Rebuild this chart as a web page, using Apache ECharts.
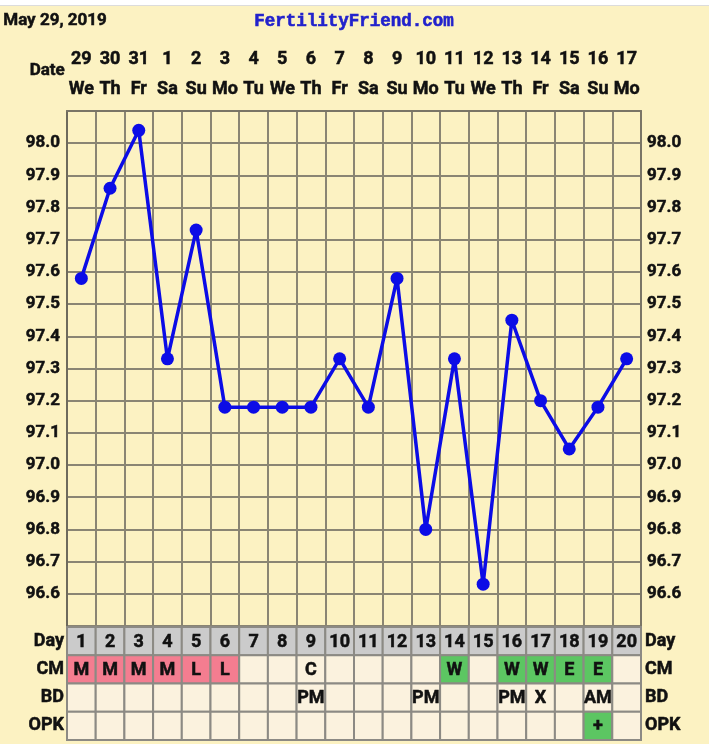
<!DOCTYPE html>
<html><head><meta charset="utf-8">
<script src="https://cdn.jsdelivr.net/npm/echarts@6/dist/echarts.min.js"></script>
<style>
html,body{margin:0;padding:0;background:#fff;overflow:hidden;}
#bg{position:absolute;left:0;top:5px;width:709px;height:739px;background:#FCF2C2;border-top:1px solid #dcdcdc;}
#chart{position:absolute;left:0;top:0;width:713px;height:744px;}
</style></head><body><div id="bg"></div><div id="chart"></div>
<script>
const chartDate = 'May 29, 2019';
const siteName = 'FertilityFriend.com';
const dates = ['29','30','31','1','2','3','4','5','6','7','8','9','10','11','12','13','14','15','16','17'];
const weekdays = ['We','Th','Fr','Sa','Su','Mo','Tu','We','Th','Fr','Sa','Su','Mo','Tu','We','Th','Fr','Sa','Su','Mo'];
const cycleDays = ['1','2','3','4','5','6','7','8','9','10','11','12','13','14','15','16','17','18','19','20'];
const temps = [97.58,97.86,98.04,97.33,97.73,97.18,97.18,97.18,97.18,97.33,97.18,97.58,96.80,97.33,96.63,97.45,97.20,97.05,97.18,97.33];
const rowNames = ['Day','CM','BD','OPK'];
const cm  = ['M','M','M','M','L','L','','','C','','','','','W','','W','W','E','E',''];
const bd  = ['','','','','','','','','PM','','','','PM','','','PM','X','','AM',''];
const opk = ['','','','','','','','','','','','','','','','','','','+',''];
const yMin = 96.5, yMax = 98.1, yStep = 0.1;

const PINK = '#F47D90', GREEN = '#5CC662', CREAM = '#FBF2DE', GRAY = '#CBCBCB';
function cmColor(t){ if(t==='M'||t==='L') return PINK; if(t==='W'||t==='E') return GREEN; return CREAM; }
function opkColor(t){ return t==='+' ? GREEN : CREAM; }

const cells = [];
cycleDays.forEach((d,i)=>{
  cells.push({col:i,row:0,text:d,fill:GRAY});
  cells.push({col:i,row:1,text:cm[i],fill:cmColor(cm[i])});
  cells.push({col:i,row:2,text:bd[i],fill:CREAM});
  cells.push({col:i,row:3,text:opk[i],fill:opkColor(opk[i])});
});

const FONT = 'Roboto';
const lblStyle = {color:'#111', fontFamily:FONT, fontWeight:'bold', fontSize:17, textBorderColor:'#111', textBorderWidth:0.5};
const gridColor = '#8A8573';

const chart = echarts.init(document.getElementById('chart'));
chart.setOption({
  animation:false,
  backgroundColor:'transparent',
  grid:[
    {left:67, top:111, width:574, height:515},
    {left:67, top:627, width:574, height:113}
  ],
  graphic:[
    {type:'text', left:3, top:12, style:{text:chartDate, font:'bold 17px Roboto', fill:'#111', stroke:'#111', lineWidth:0.5}},
    {type:'text', left:254, top:12, style:{text:siteName, font:'bold 17.5px "Liberation Mono"', fill:'#2222CC', stroke:'#2222CC', lineWidth:0.6}},
    {type:'text', right:648, top:62, style:{text:'Date', font:'bold 17px Roboto', fill:'#111', stroke:'#111', lineWidth:0.5}}
  ],
  xAxis:[
    {gridIndex:0, type:'category', data:dates, position:'top', boundaryGap:true,
     axisLine:{show:true, lineStyle:{color:'#7A7566', width:2}}, axisTick:{show:false},
     axisLabel:Object.assign({interval:0, margin:13, formatter:(v,i)=>weekdays[i]}, lblStyle, {fontSize:18}),
     splitLine:{show:true, interval:0, lineStyle:{color:gridColor, width:2}}},
    {gridIndex:0, type:'category', data:dates, position:'top', boundaryGap:true,
     axisLine:{show:false}, axisTick:{show:false},
     axisLabel:Object.assign({interval:0, margin:43}, lblStyle, {fontSize:18}),
     splitLine:{show:false}},
    {gridIndex:1, type:'category', data:cycleDays, position:'bottom', boundaryGap:true,
     axisLine:{show:false}, axisTick:{show:false}, axisLabel:{show:false}, splitLine:{show:false}}
  ],
  yAxis:[
    {gridIndex:0, type:'value', min:yMin, max:yMax, interval:yStep, position:'left',
     axisLine:{show:true, lineStyle:{color:'#6E6A5C', width:2}}, axisTick:{show:false},
     axisLabel:Object.assign({margin:7, formatter:v=>(v<yMin+0.05||v>yMax-0.05)?'':v.toFixed(1)}, lblStyle),
     splitLine:{show:true, lineStyle:{color:gridColor, width:2}}},
    {gridIndex:0, type:'value', min:yMin, max:yMax, interval:yStep, position:'right',
     axisLine:{show:true, lineStyle:{color:'#7A7566', width:2}}, axisTick:{show:false},
     axisLabel:Object.assign({margin:6, formatter:v=>(v<yMin+0.05||v>yMax-0.05)?'':v.toFixed(1)}, lblStyle),
     splitLine:{show:false}},
    {gridIndex:1, type:'category', data:rowNames, inverse:true, position:'left',
     axisLine:{show:false}, axisTick:{show:false},
     axisLabel:Object.assign({margin:3}, lblStyle, {fontSize:18}), splitLine:{show:false}},
    {gridIndex:1, type:'category', data:rowNames, inverse:true, position:'right',
     axisLine:{show:false}, axisTick:{show:false},
     axisLabel:Object.assign({margin:4}, lblStyle, {fontSize:18}), splitLine:{show:false}}
  ],
  series:[
    {type:'line', xAxisIndex:0, yAxisIndex:0, data:temps,
     lineStyle:{color:'#0C0CE6', width:3.5}, itemStyle:{color:'#0C0CE6'},
     symbol:'circle', symbolSize:13, z:5},
    {type:'custom', xAxisIndex:2, yAxisIndex:2, data:cells.map(c=>[c.col,c.row]),
     renderItem:function(params, api){
       const c = cells[params.dataIndex];
       const p = api.coord([api.value(0), api.value(1)]);
       const s = api.size([1,1]);
       return {type:'group', children:[
         {type:'rect', shape:{x:p[0]-s[0]/2, y:p[1]-s[1]/2, width:s[0], height:s[1]},
          style:{fill:c.fill, stroke:'#8C8A84', lineWidth:2}},
         {type:'text', x:p[0], y:p[1]+1, style:{text:c.text, textAlign:'center', textVerticalAlign:'middle', align:'center', verticalAlign:'middle', font:'bold 18px Roboto', fill:'#111', stroke:'#111', lineWidth:0.5}}
       ]};
     }}
  ]
});
</script></body></html>
